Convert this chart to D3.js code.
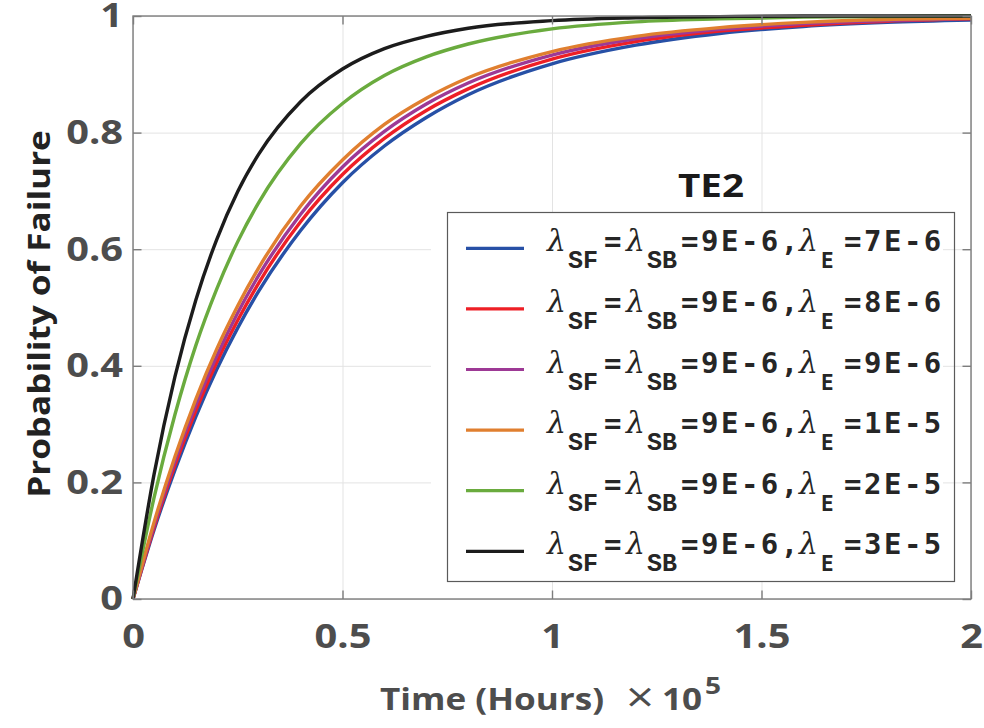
<!DOCTYPE html>
<html>
<head>
<meta charset="utf-8">
<script src="https://cdnjs.cloudflare.com/ajax/libs/d3/7.8.5/d3.min.js"></script>
<style>
  body { margin: 0; background: #fff; }
</style>
</head>
<body>
<div id="chart"></div>
<script>
// time in units of 1e5 hours
var time = [0, 0.05, 0.1, 0.15, 0.2, 0.25, 0.3, 0.4, 0.5, 0.6, 0.7, 0.8, 1.0, 1.2, 1.4, 1.6, 1.8, 2.0];

// probability of failure
var probE7  = [0, 0.118, 0.221, 0.313, 0.394, 0.465, 0.528, 0.632, 0.714, 0.777, 0.826, 0.865, 0.918, 0.950, 0.970, 0.982, 0.989, 0.993];
var probE8  = [0, 0.122, 0.229, 0.323, 0.406, 0.478, 0.542, 0.647, 0.728, 0.790, 0.838, 0.875, 0.926, 0.956, 0.974, 0.984, 0.991, 0.995];
var probE9  = [0, 0.126, 0.237, 0.333, 0.417, 0.491, 0.555, 0.660, 0.741, 0.802, 0.849, 0.885, 0.933, 0.961, 0.977, 0.987, 0.992, 0.996];
var probE10 = [0, 0.131, 0.244, 0.343, 0.429, 0.503, 0.568, 0.674, 0.753, 0.814, 0.859, 0.894, 0.939, 0.965, 0.980, 0.989, 0.994, 0.996];
var probE20 = [0, 0.173, 0.316, 0.435, 0.532, 0.613, 0.680, 0.781, 0.850, 0.898, 0.930, 0.952, 0.978, 0.990, 0.995, 0.998, 0.999, 1.000];
var probE30 = [0, 0.213, 0.381, 0.513, 0.617, 0.699, 0.763, 0.853, 0.909, 0.944, 0.965, 0.979, 0.992, 0.997, 0.999, 1.000, 1.000, 1.000];

var lambdaE = ["7E-6", "8E-6", "9E-6", "1E-5", "2E-5", "3E-5"];
var lambdaSFSB = "9E-6";
var legendTitle = "TE2";

var xTicks = [0, 0.5, 1, 1.5, 2];
var xTickLabels = ["0", "0.5", "1", "1.5", "2"];
var yTicks = [0, 0.2, 0.4, 0.6, 0.8, 1];
var yTickLabels = ["0", "0.2", "0.4", "0.6", "0.8", "1"];

var series = [probE7, probE8, probE9, probE10, probE20, probE30];
var colors = ["#2750a6", "#ee1f26", "#9d3995", "#e07f2f", "#6aab3e", "#1c1c1c"];

var W = 984, H = 728;
var pLeft = 133, pRight = 971, pTop = 16, pBottom = 599;
var STRETCH = 1.17; // the figure's text is a bit wider than Open Sans

var x = d3.scaleLinear().domain([0, 2]).range([pLeft, pRight]);
var y = d3.scaleLinear().domain([0, 1]).range([pBottom, pTop]);

var svg = d3.select("#chart")
    .append("svg")
    .attr("width", W)
    .attr("height", H)
    .style("font-family", "'Open Sans', sans-serif");

// grid
var gx = svg.append("g")
    .attr("transform", "translate(0," + pBottom + ")")
    .call(d3.axisBottom(x).tickValues(xTicks).tickSize(-(pBottom - pTop)).tickFormat(""));
var gy = svg.append("g")
    .attr("transform", "translate(" + pLeft + ",0)")
    .call(d3.axisLeft(y).tickValues(yTicks).tickSize(-(pRight - pLeft)).tickFormat(""));
[gx, gy].forEach(function(g) {
    g.select(".domain").remove();
    g.selectAll("line").attr("stroke", "#e3e3e3").attr("stroke-width", 1);
});

// curves
var line = d3.line()
    .x(function(d, i) { return x(time[i]); })
    .y(function(d) { return y(d); })
    .curve(d3.curveMonotoneX);

svg.selectAll(".curve")
    .data(series)
    .enter().append("path")
    .attr("class", "curve")
    .attr("d", line)
    .attr("fill", "none")
    .attr("stroke", function(d, i) { return colors[i]; })
    .attr("stroke-width", 3.4)
    .attr("stroke-linejoin", "round");

// axes box
svg.append("rect")
    .attr("x", pLeft).attr("y", pTop)
    .attr("width", pRight - pLeft).attr("height", pBottom - pTop)
    .attr("fill", "none")
    .attr("stroke", "#7d7d7d")
    .attr("stroke-width", 1.4);

var tickLen = 8.5;
function styleAxis(g) {
    g.attr("font-family", null).attr("font-size", null);
    g.select(".domain").remove();
    g.selectAll("line").attr("stroke", "#7d7d7d").attr("stroke-width", 1.4);
    g.selectAll("text")
        .attr("fill", "#4d4d4d")
        .style("font-size", "34px")
        .style("font-weight", "bold");
}

var xAxis = svg.append("g")
    .attr("transform", "translate(0," + pBottom + ")")
    .call(d3.axisBottom(x).tickValues(xTicks)
        .tickFormat(function(d, i) { return xTickLabels[i]; })
        .tickSizeInner(-tickLen).tickSizeOuter(0).tickPadding(25));
styleAxis(xAxis);
xAxis.selectAll("text").attr("transform", "scale(" + STRETCH + ",1)");

var yAxis = svg.append("g")
    .attr("transform", "translate(" + pLeft + ",0)")
    .call(d3.axisLeft(y).tickValues(yTicks)
        .tickFormat(function(d, i) { return yTickLabels[i]; })
        .tickSizeInner(-tickLen).tickSizeOuter(0).tickPadding(10));
styleAxis(yAxis);
yAxis.selectAll("text")
    .attr("x", -10 / STRETCH)
    .attr("transform", "scale(" + STRETCH + ",1)");

var xTop = svg.append("g")
    .attr("transform", "translate(0," + pTop + ")")
    .call(d3.axisTop(x).tickValues(xTicks).tickFormat("").tickSizeInner(-tickLen).tickSizeOuter(0));
styleAxis(xTop);
var yRight = svg.append("g")
    .attr("transform", "translate(" + pRight + ",0)")
    .call(d3.axisRight(y).tickValues(yTicks).tickFormat("").tickSizeInner(-tickLen).tickSizeOuter(0));
styleAxis(yRight);

// axis titles
function stretchedText(px, py, str, size, weight, fill, anchor, extra) {
    return svg.append("text")
        .attr("transform", "translate(" + px + "," + py + ")" + (extra || "") + " scale(" + STRETCH + ",1)")
        .attr("text-anchor", anchor || "start")
        .style("font-size", size + "px")
        .style("font-weight", weight)
        .attr("fill", fill)
        .text(str);
}

stretchedText(380, 710, "Time (Hours)", 30, "bold", "#4d4d4d");
stretchedText(626, 712, "\u00d7", 42, "normal", "#4d4d4d");
stretchedText(662, 710, "10", 30, "bold", "#4d4d4d");
stretchedText(705, 694, "5", 24, "bold", "#4d4d4d");

stretchedText(50, 314, "Probability of Failure", 30, "bold", "#222", "middle", " rotate(-90)");

// legend
var lg = svg.append("g");
lg.append("rect")
    .attr("x", 431).attr("y", 212)
    .attr("width", 512).attr("height", 370)
    .attr("fill", "#fff");
lg.append("rect")
    .attr("x", 447.5).attr("y", 212.5)
    .attr("width", 507).attr("height", 369)
    .attr("fill", "none")
    .attr("stroke", "#5a5a5a")
    .attr("stroke-width", 1.2);

stretchedText(711, 197, legendTitle, 33, "bold", "#1a1a1a", "middle");

function seg(g, px, py, str, family, size, weight, style, spacing) {
    return g.append("text")
        .attr("x", px).attr("y", py)
        .style("font-family", family)
        .style("font-size", size + "px")
        .style("font-weight", weight)
        .style("font-style", style)
        .style("letter-spacing", (spacing || 0) + "px")
        .attr("fill", "#262626")
        .text(str);
}

var lam = "\u03bb";
var greek = "'DejaVu Serif', 'Liberation Serif', serif";
var mono = "'DejaVu Sans Mono', monospace";
var courier = "'Liberation Mono', 'Courier New', Cousine, 'Nimbus Mono PS', FreeMono, monospace";

lambdaE.forEach(function(le, i) {
    var rowY = 248.3 + i * 60.6;
    var base = rowY + 3, sub = rowY + 20;
    var row = lg.append("g");
    row.append("line")
        .attr("x1", 466).attr("x2", 524)
        .attr("y1", rowY).attr("y2", rowY)
        .attr("stroke", colors[i])
        .attr("stroke-width", 3.2);
    seg(row, 547, base, lam, greek, 30, "normal", "italic");
    seg(row, 568, sub, "SF", courier, 25, "bold", "normal");
    seg(row, 604, base, "=", mono, 29, "bold", "normal");
    seg(row, 626, base, lam, greek, 30, "normal", "italic");
    seg(row, 647, sub, "SB", courier, 25, "bold", "normal");
    seg(row, 681, base, "=" + lambdaSFSB + ",", mono, 29, "bold", "normal", 2.5);
    seg(row, 799, base, lam, greek, 30, "normal", "italic");
    seg(row, 821, sub, "E", mono, 21, "bold", "normal");
    seg(row, 844, base, "=" + le, mono, 29, "bold", "normal", 2.5);
});
</script>
</body>
</html>
